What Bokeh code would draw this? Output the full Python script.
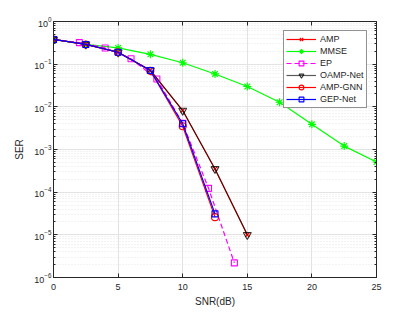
from bokeh.plotting import figure
from bokeh.models import (Legend, LegendItem, FixedTicker, LinearAxis, LogAxis,
                          CustomJSTickFormatter, Range1d)
from bokeh.embed import file_html
from bokeh.resources import INLINE

# ---------------- data ----------------
snr_25 = [0, 2.5, 5, 7.5, 10, 12.5, 15, 17.5, 20, 22.5, 25]
mmse = [0.38, 0.29, 0.24, 0.17, 0.108, 0.059, 0.030, 0.0128, 0.0039, 0.0012, 0.00051]

snr_amp = [0, 2.5, 5, 7.5, 10, 12.5, 15]
amp = [0.38, 0.29, 0.19, 0.072, 0.0082, 3.5e-4, 1.0e-5]

snr_ep = [0, 2, 4, 6, 8, 10, 12, 14]
ep = [0.38, 0.32, 0.24, 0.134, 0.045, 0.0041, 1.23e-4, 2.2e-6]

snr_oamp = [0, 2.5, 5, 7.5, 10, 12.5, 15]
oamp = [0.38, 0.29, 0.19, 0.072, 0.0082, 3.5e-4, 1.0e-5]

snr_gnn = [0, 2.5, 5, 7.5, 10, 12.5]
amp_gnn = [0.38, 0.29, 0.19, 0.070, 0.0035, 2.6e-5]

snr_gep = [0, 2.5, 5, 7.5, 10, 12.5]
gep = [0.38, 0.29, 0.19, 0.071, 0.0040, 3.1e-5]

x_ticks = [0, 5, 10, 15, 20, 25]
y_exponents = [-6, -5, -4, -3, -2, -1, 0]

FONT = "Liberation Sans"
AX = "#262626"

p = figure(width=415, height=312, y_axis_type="log",
           x_range=Range1d(0, 25), y_range=Range1d(1e-6, 1),
           output_backend="svg", toolbar_location=None,
           min_border_left=53, min_border_right=39,
           min_border_top=21, min_border_bottom=35)
p.background_fill_color = "white"
p.border_fill_color = "white"
p.outline_line_color = AX
p.outline_line_width = 1

# ticks
p.xaxis.ticker = FixedTicker(ticks=x_ticks)
minor = [m * 10.0 ** e for e in y_exponents[:-1] for m in range(2, 10)]
yt = FixedTicker(ticks=[10.0 ** e for e in y_exponents], minor_ticks=minor)
p.yaxis.ticker = yt

for ax in (p.xaxis, p.yaxis):
    ax.axis_line_color = AX
    ax.major_tick_line_color = AX
    ax.major_tick_in = 4
    ax.major_tick_out = 0
    ax.minor_tick_in = 2
    ax.minor_tick_out = 0
    ax.major_label_text_font = FONT
    ax.major_label_text_font_size = "9px"
    ax.major_label_text_color = AX
    ax.axis_label_text_font = FONT
    ax.axis_label_text_font_size = "10px"
    ax.axis_label_text_font_style = "normal"
    ax.axis_label_text_color = AX
p.xaxis.minor_tick_line_color = None
p.yaxis.minor_tick_line_color = AX
p.xaxis.major_label_standoff = 6
p.xaxis.axis_label_standoff = 3
p.yaxis.major_label_standoff = 2
p.yaxis.axis_label_standoff = 6
p.xaxis.axis_label = "SNR(dB)"
p.yaxis.axis_label = "SER"

# mirrored ticks
blank = CustomJSTickFormatter(code="return ''")
top = LinearAxis(ticker=FixedTicker(ticks=x_ticks), formatter=blank,
                 major_tick_in=4, major_tick_out=0, minor_tick_line_color=None,
                 axis_line_color=AX, major_tick_line_color=AX,
                 major_label_standoff=0, major_label_text_font_size="1px")
right = LogAxis(ticker=FixedTicker(ticks=[10.0 ** e for e in y_exponents], minor_ticks=minor),
                formatter=blank, major_tick_in=4, major_tick_out=0,
                minor_tick_in=2, minor_tick_out=0,
                axis_line_color=AX, major_tick_line_color=AX, minor_tick_line_color=AX,
                major_label_standoff=0, major_label_text_font_size="1px")
p.add_layout(top, "above")
p.add_layout(right, "right")

# grids
p.xgrid.grid_line_color = "#e3e3e3"
p.ygrid.grid_line_color = "#e3e3e3"
p.ygrid.minor_grid_line_color = "#e6e6e6"
p.ygrid.minor_grid_line_dash = "1 2"

# series
r_mmse_l = p.line(snr_25, mmse, line_color="#00ff00", line_width=1.2)
r_mmse_m = p.scatter(snr_25, mmse, marker="asterisk", size=8, line_color="#00ff00", line_width=1.2)

r_amp_l = p.line(snr_amp, amp, line_color="#ff0000", line_width=1.2)
r_amp_m = p.scatter(snr_amp, amp, marker="x", size=6, line_color="#ff0000", line_width=1.2)

r_ep_l = p.line(snr_ep, ep, line_color="#ff00ff", line_width=1.2, line_dash="5 3")
r_ep_m = p.scatter(snr_ep, ep, marker="square", size=6, line_color="#ff00ff",
                   fill_color=None, line_width=1.1)

r_oamp_l = p.line(snr_oamp, oamp, line_color="#000000", line_width=1.2, line_alpha=0.65)
r_oamp_m = p.scatter(snr_oamp, oamp, marker="inverted_triangle", size=8, line_color="#000000",
                     fill_color=None, line_width=1.1, line_alpha=0.8)

r_gnn_l = p.line(snr_gnn, amp_gnn, line_color="#ff0000", line_width=1.2)
r_gnn_m = p.scatter(snr_gnn, amp_gnn, marker="circle", size=7, line_color="#ff0000",
                    fill_color=None, line_width=1.1)

r_gep_l = p.line(snr_gep, gep, line_color="#0000ff", line_width=1.2)
r_gep_m = p.scatter(snr_gep, gep, marker="square", size=6, line_color="#0000ff",
                    fill_color=None, line_width=1.1)

legend = Legend(items=[
    LegendItem(label="AMP", renderers=[r_amp_l, r_amp_m]),
    LegendItem(label="MMSE", renderers=[r_mmse_l, r_mmse_m]),
    LegendItem(label="EP", renderers=[r_ep_l, r_ep_m]),
    LegendItem(label="OAMP-Net", renderers=[r_oamp_l, r_oamp_m]),
    LegendItem(label="AMP-GNN", renderers=[r_gnn_l, r_gnn_m]),
    LegendItem(label="GEP-Net", renderers=[r_gep_l, r_gep_m]),
], location=(230, 169))
legend.label_text_font = FONT
legend.label_text_font_size = "9px"
legend.label_text_color = AX
legend.glyph_width = 30
legend.glyph_height = 12
legend.label_height = 12
legend.label_standoff = 4
legend.spacing = 0
legend.padding = 2
legend.margin = 0
legend.border_line_color = AX
legend.border_line_width = 1
legend.background_fill_alpha = 1
p.add_layout(legend, "center")

open("out.html", "w").write(file_html(p, INLINE))
